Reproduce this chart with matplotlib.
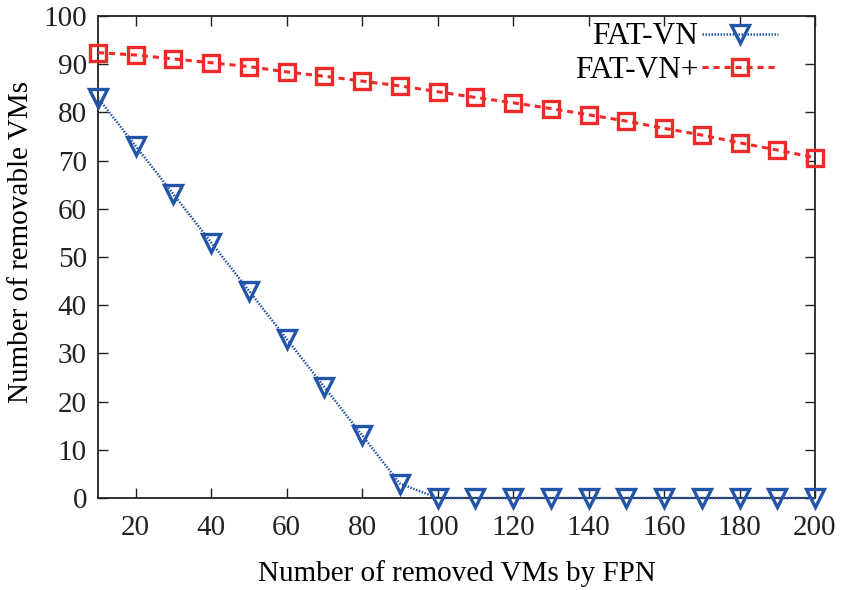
import matplotlib
matplotlib.use("Agg")
import matplotlib.pyplot as plt

plt.rcParams['font.family'] = ['Liberation Serif', 'DejaVu Serif']
plt.rcParams['mathtext.fontset'] = 'stix'

x_vals = [10, 20, 30, 40, 50, 60, 70, 80, 90, 100, 110, 120, 130, 140, 150, 160, 170, 180, 190, 200]
fat_vn = [83, 73, 63, 53, 43, 33, 23, 13, 3, 0, 0, 0, 0, 0, 0, 0, 0, 0, 0, 0]
fat_vn_plus = [92.4, 91.9, 91.1, 90.3, 89.5, 88.4, 87.5, 86.5, 85.5, 84.3, 83.1, 82.0, 80.8, 79.5, 78.2, 76.7, 75.3, 73.7, 72.2, 70.6]
x_ticks = [20, 40, 60, 80, 100, 120, 140, 160, 180, 200]
y_ticks = [0, 10, 20, 30, 40, 50, 60, 70, 80, 90, 100]

fig = plt.figure(figsize=(8.42, 5.90), dpi=100)
ax = fig.add_axes([98/842, 1-498/590, (815-98)/842, (498-16)/590])

blue = '#2255aa'
red = '#ee2a2a'

ax.plot(x_vals, fat_vn, color=blue, linestyle=(0, (0.6, 0.6)), linewidth=1.8,
        marker='v', markersize=13.5, markerfacecolor='none', markeredgecolor=blue,
        markeredgewidth=2.4, clip_on=False, label='FAT-VN', zorder=3)
ax.plot(x_vals, fat_vn_plus, color=red, linestyle=(0, (2, 1.6)), linewidth=2.2,
        marker='s', markersize=12, markerfacecolor='none', markeredgecolor=red,
        markeredgewidth=2.4, clip_on=False, label='FAT-VN+', zorder=3)

ax.set_xlim(10, 200)
ax.set_ylim(0, 100)
ax.set_xticks(x_ticks)
ax.set_yticks(y_ticks)
ax.tick_params(direction='in', length=7, width=1, top=True, right=True,
               labelsize=21, colors='#222222', pad=8)
ax.tick_params(axis='x', pad=12)
for s in ax.spines.values():
    s.set_linewidth(1.3)
    s.set_color('#222222')

ax.set_xlabel('Number of removed VMs by FPN', fontsize=21, labelpad=14)
ax.set_ylabel('Number of removable VMs', fontsize=21)
ax.yaxis.set_label_coords((34-98)/717, (498-242)/482)

leg = ax.legend(loc='upper right', bbox_to_anchor=(778/842, 1-22.5/590),
                bbox_transform=fig.transFigure, frameon=False,
                markerfirst=False, fontsize=22.5, handlelength=2.43,
                handletextpad=0.12, labelspacing=0.13, borderaxespad=0,
                borderpad=0)

fig.savefig('out.png', dpi=100)
